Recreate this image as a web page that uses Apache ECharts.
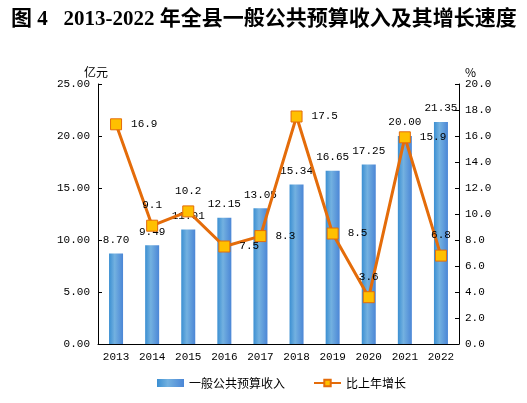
<!DOCTYPE html>
<html>
<head>
<meta charset="utf-8">
<script src="https://cdn.jsdelivr.net/npm/echarts@6/dist/echarts.min.js"></script>
<style>
html,body{margin:0;padding:0;background:#fff;}
#chart{width:527px;height:403px;}
</style>
</head>
<body>
<div id="chart"></div>
<script>
// 数据
var years = ["2013","2014","2015","2016","2017","2018","2019","2020","2021","2022"];
var revenue = [8.70, 9.49, 11.01, 12.15, 13.05, 15.34, 16.65, 17.25, 20.00, 21.35];
var growth = [16.9, 9.1, 10.2, 7.5, 8.3, 17.5, 8.5, 3.6, 15.9, 6.8];

var monoFont = "'Liberation Mono', 'Noto Sans CJK SC', monospace";
var cjkFont = "'Noto Sans CJK SC', sans-serif";
var orange = "#E46C0A";

// 折线标签位置（仿原图）
var growthLabelPos = ["right","top","top","right","right","right","right","top","right","top"];

var chart = echarts.init(document.getElementById("chart"));

var barColor = new echarts.graphic.LinearGradient(0, 0, 1, 0, [
    {offset: 0, color: "#3b8fd2"},
    {offset: 0.4, color: "#73b1e0"},
    {offset: 1, color: "#4b86d6"}
]);

var growthData = [];
for (var i = 0; i < growth.length; i++) {
    growthData.push({
        value: growth[i],
        label: {position: growthLabelPos[i]}
    });
}

var option = {
    animation: false,
    title: {
        text: "图 4   2013-2022 年全县一般公共预算收入及其增长速度",
        left: 6,
        top: 4,
        textStyle: {
            fontFamily: "'Liberation Serif', 'Noto Sans CJK SC', serif",
            fontWeight: "bold",
            fontSize: 21,
            color: "#000"
        }
    },
    legend: {
        bottom: 9,
        left: 152,
        itemWidth: 27,
        itemHeight: 8,
        itemGap: 28,
        textStyle: {fontFamily: cjkFont, fontSize: 12, color: "#000"},
        data: [
            {name: "一般公共预算收入", icon: "rect"},
            {name: "比上年增长"}
        ]
    },
    grid: {left: 98, right: 68, top: 84, bottom: 59},
    xAxis: {
        type: "category",
        data: years,
        axisLine: {lineStyle: {color: "#000", width: 1}},
        axisTick: {inside: true, length: 4, lineStyle: {color: "#000"}},
        axisLabel: {fontFamily: monoFont, fontSize: 11, color: "#000", margin: 8}
    },
    yAxis: [{
        type: "value",
        name: "亿元",
        min: 0, max: 25, interval: 5,
        nameGap: 6,
        nameTextStyle: {fontFamily: cjkFont, fontSize: 12, color: "#000", padding: [0, 0, 0, -4]},
        axisLine: {show: true, lineStyle: {color: "#000"}},
        axisTick: {show: true, inside: true, length: 4, lineStyle: {color: "#000"}},
        splitLine: {show: false},
        axisLabel: {
            fontFamily: monoFont, fontSize: 11, color: "#000", margin: 8,
            formatter: function (v) { return v.toFixed(2); }
        }
    }, {
        type: "value",
        name: "%",
        min: 0, max: 20, interval: 2,
        nameGap: 6,
        nameTextStyle: {fontFamily: cjkFont, fontSize: 12, color: "#000", align: "left", padding: [0, 0, 0, 6]},
        axisLine: {show: true, lineStyle: {color: "#000"}},
        axisTick: {show: true, inside: true, length: 4, lineStyle: {color: "#000"}},
        splitLine: {show: false},
        axisLabel: {
            fontFamily: monoFont, fontSize: 11, color: "#000", margin: 6,
            formatter: function (v) { return v.toFixed(1); }
        }
    }],
    series: [{
        name: "一般公共预算收入",
        type: "bar",
        data: revenue,
        barWidth: 14,
        itemStyle: {color: barColor},
        label: {
            show: true,
            position: "top",
            distance: 8,
            fontFamily: monoFont,
            fontSize: 11,
            color: "#000",
            formatter: function (p) { return p.value.toFixed(2); }
        }
    }, {
        name: "比上年增长",
        type: "line",
        yAxisIndex: 1,
        data: growthData,
        symbol: "rect",
        symbolSize: 11,
        lineStyle: {color: orange, width: 3},
        itemStyle: {color: "#FFC000", borderColor: orange, borderWidth: 1},
        label: {
            show: true,
            distance: 9,
            fontFamily: monoFont,
            fontSize: 11,
            color: "#000",
            formatter: function (p) { return p.value.toFixed(1); }
        },
        z: 3
    }]
};

chart.setOption(option);
</script>
</body>
</html>
